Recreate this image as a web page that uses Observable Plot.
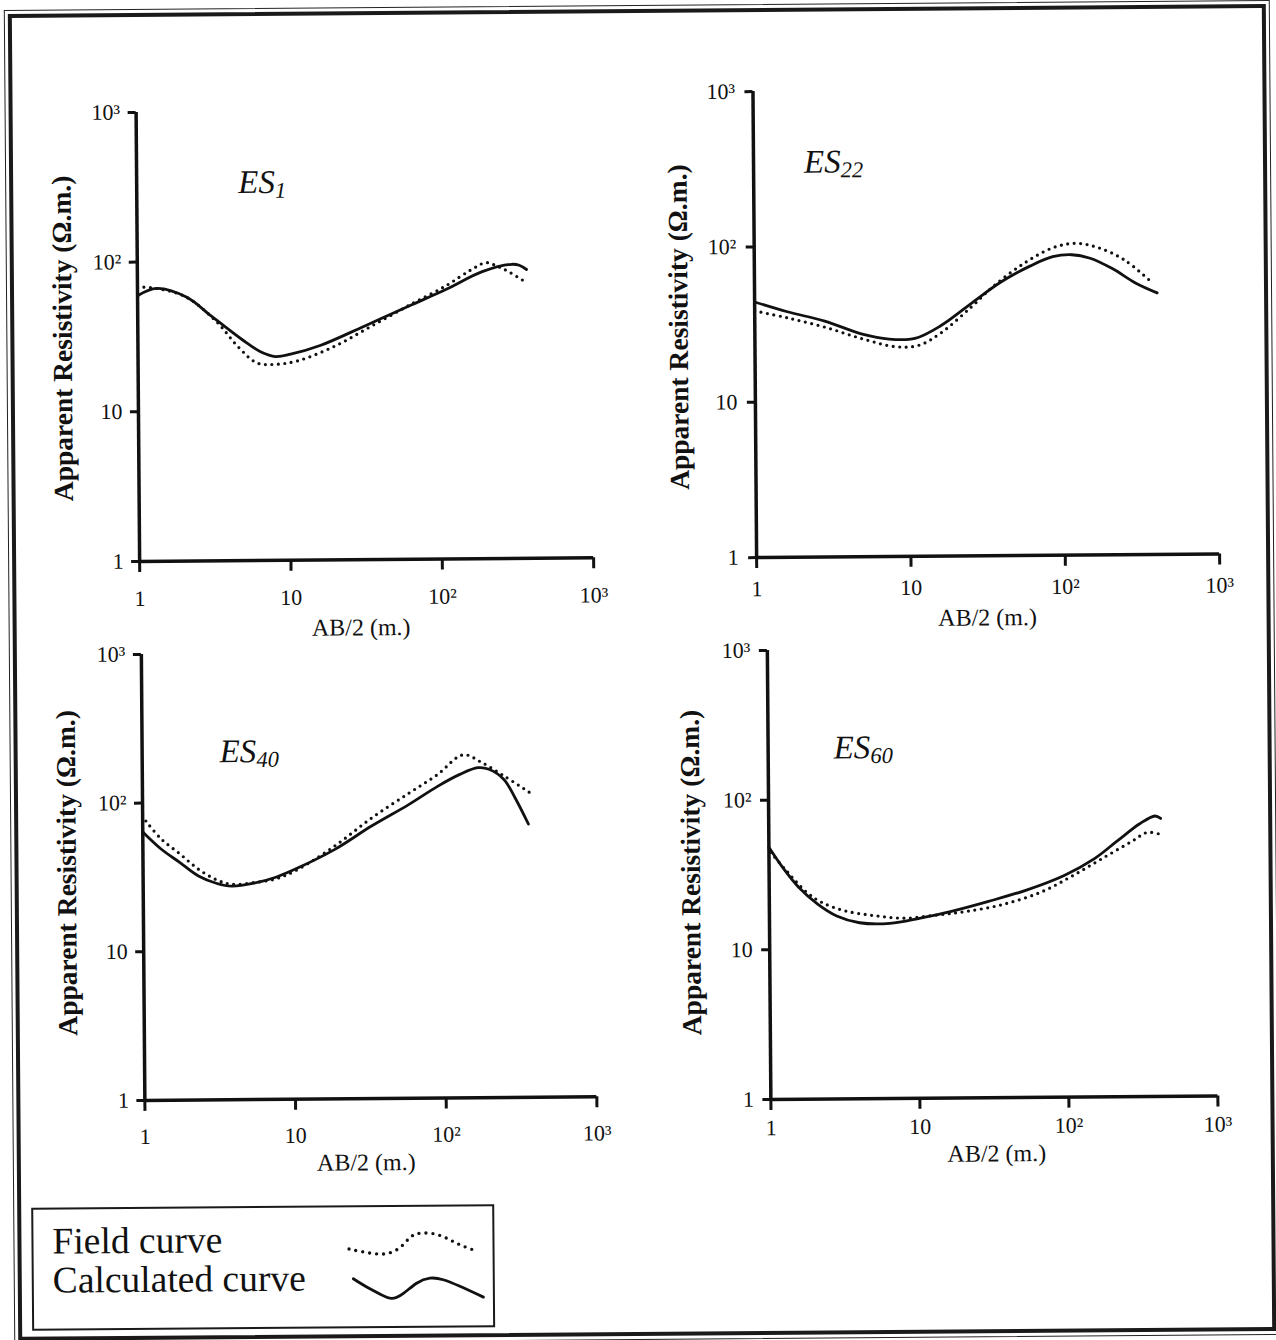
<!DOCTYPE html>
<html>
<head>
<meta charset="utf-8">
<script src="https://cdn.jsdelivr.net/npm/d3@7"></script>
<script src="https://cdn.jsdelivr.net/npm/@observablehq/plot@0.6"></script>
<style>
html, body { margin: 0; padding: 0; background: #fff; overflow: hidden; width: 1276px; height: 1340px; }
#page { position: relative; width: 1276px; height: 1340px; transform: rotate(-0.45deg); transform-origin: 638px 670px; font-family: 'Liberation Serif', 'Times New Roman', serif; color: #111; }
.es { font-style: italic; font-size: 33px; line-height: 1; white-space: nowrap; }
.es sub { font-size: 0.68em; vertical-align: -0.22em; line-height: 1; }
.legtext { font-size: 37.5px; line-height: 1; white-space: nowrap; }
</style>
</head>
<body>
<div id="page"></div>
<script>
// ---------- data ----------
const abTicks = [1, 10, 100, 1000];
const xTickText = ["1", "10", "10²", "10³"];
const yTickText = ["1", "10", "10²", "10³"];
const xTitle = "AB/2 (m.)";
const yTitle = "Apparent Resistivity (Ω.m.)";
const stationNumbers = ["1", "22", "40", "60"];
const legendLabels = ["Field curve", "Calculated curve"];

// ES1
const es1FieldAB  = [1, 1.34, 2.1, 3.3, 4.6, 6.1, 8.1, 11.4, 20, 35, 61.6, 108, 160, 201, 238, 282, 353];
const es1FieldRho = [68.2, 66.5, 58, 39.8, 26.8, 20.9, 20.4, 21.5, 26.8, 36.3, 49.5, 66.5, 85.1, 95, 90, 82.8, 72];
const es1CalcAB   = [1, 1.34, 2.1, 3.1, 4.9, 6.5, 8.1, 10.2, 16, 31.4, 61.6, 108, 190, 298, 334, 373];
const es1CalcRho  = [59.6, 66.5, 58, 42.8, 29.9, 24.7, 23, 23.8, 27.1, 36.3, 49.1, 62.9, 82.8, 92.4, 90.9, 85.1];
// ES22
const es22FieldAB  = [1, 1.63, 2.84, 4.97, 8.2, 11.5, 16.1, 25.1, 35.2, 55, 85.9, 120, 168, 249, 368];
const es22FieldRho = [38.7, 34.8, 30.2, 25.3, 22.4, 22.8, 27.4, 39.7, 54.1, 75.2, 95.3, 101.6, 95.3, 79.2, 57.5];
const es22CalcAB   = [1, 1.63, 2.84, 4.97, 7.4, 10.9, 16.1, 25.1, 39.3, 61.5, 85.9, 114, 150, 210, 294, 406];
const es22CalcRho  = [44.2, 38.1, 33, 27.1, 25.1, 25.3, 30.5, 41.9, 57.5, 73.1, 83.5, 85.8, 81.3, 69.3, 56.1, 48.3];
// ES40
const es40FieldAB  = [1.05, 1.32, 1.76, 2.33, 3.09, 3.87, 5.43, 7.6, 10.7, 18.8, 33, 58, 91, 135, 179, 251, 373];
const es40FieldRho = [75.7, 57.4, 45.3, 35.7, 30.1, 28.1, 28.8, 30.4, 35.2, 50.3, 77, 112, 150, 203, 180, 146, 112];
const es40CalcAB   = [1, 1.32, 1.76, 2.33, 3.09, 3.87, 5.43, 7.6, 10.7, 18.8, 33, 58, 91, 128, 169, 200, 251, 298, 363];
const es40CalcRho  = [63.9, 49, 39.6, 32.1, 28.5, 27.3, 28.5, 31.2, 36, 47.7, 68.1, 94.2, 125, 150, 166, 162, 138, 103, 69];
// ES60
const es60FieldAB  = [1.03, 1.32, 1.77, 2.23, 3.18, 5.08, 8.1, 13, 20.8, 37.4, 67.2, 108, 172, 275, 348, 415];
const es60FieldRho = [44.7, 33.3, 24.3, 20.7, 18.1, 16.7, 16, 16.7, 17.6, 19.6, 23.6, 30, 39.1, 51, 58.2, 56.7];
const es60CalcAB   = [1, 1.24, 1.57, 2.11, 2.83, 4.02, 6.43, 10.3, 16.4, 29.6, 53.2, 95.6, 153, 217, 309, 391, 427];
const es60CalcRho  = [48.4, 35.2, 26.2, 20.1, 16.7, 15, 14.8, 16, 17.6, 20.5, 24.3, 30.3, 39.1, 51, 66.5, 74.8, 72];

// legend glyph shapes (normalised 0..1)
const fieldSampleT = [0, 0.091, 0.195, 0.299, 0.403, 0.481, 0.558, 0.662, 0.766, 0.87, 1.0];
const fieldSampleV = [0.243, 0.112, 0, 0, 0.32, 0.81, 1.0, 0.97, 0.73, 0.40, 0.078];
const calcSampleT  = [0, 0.103, 0.205, 0.295, 0.385, 0.487, 0.59, 0.692, 0.82, 1.0];
const calcSampleV  = [1.0, 0.58, 0.215, 0, 0.25, 0.75, 1.0, 0.915, 0.58, 0.03];

// ---------- layout ----------
const page = document.getElementById("page");
function place(el, left, top) {
  el.style.position = "absolute";
  el.style.left = left + "px";
  el.style.top = top + "px";
  page.appendChild(el);
  return el;
}
const FONT = "'Liberation Serif', 'Times New Roman', serif";
const zip = (a, b) => a.map((v, i) => ({ab: v, rho: b[i]}));

const panels = [
  {left: 140, top: 108, right: 594, bottom: 557, field: zip(es1FieldAB, es1FieldRho), calc: zip(es1CalcAB, es1CalcRho),
   xPad: 18, yPad: 8, yTdx: -75, yTdy: 1, xTdx: -6, xTdy: 68, es: [242, 163]},
  {left: 757, top: 92, right: 1220, bottom: 558, field: zip(es22FieldAB, es22FieldRho), calc: zip(es22CalcAB, es22CalcRho),
   xPad: 12, yPad: 10, yTdx: -76, yTdy: 2, xTdx: -1, xTdy: 62, es: [808, 147]},
  {left: 141, top: 650, right: 593, bottom: 1096, field: zip(es40FieldAB, es40FieldRho), calc: zip(es40CalcAB, es40CalcRho),
   xPad: 17, yPad: 8, yTdx: -76, yTdy: -5, xTdx: -5, xTdy: 64, es: [219, 732]},
  {left: 767, top: 651, right: 1214, bottom: 1100, field: zip(es60FieldAB, es60FieldRho), calc: zip(es60CalcAB, es60CalcRho),
   xPad: 9, yPad: 9, yTdx: -78, yTdy: -3, xTdx: 2, xTdy: 56, es: [833, 733]}
];

panels.forEach((p, k) => {
  const W = p.right - p.left, H = p.bottom - p.top;
  const mL = 120, mR = 40, mT = 30, mB = 100;
  const svg = Plot.plot({
    width: W + mL + mR, height: H + mT + mB,
    marginLeft: mL, marginRight: mR, marginTop: mT, marginBottom: mB,
    style: {background: "none", fontFamily: FONT, color: "#111", overflow: "visible", maxWidth: "none"},
    x: {type: "log", domain: [1, 1000]},
    y: {type: "log", domain: [1, 1000]},
    marks: [
      Plot.axisX({ticks: abTicks, tickFormat: d => xTickText[abTicks.indexOf(d)], tickSize: 11, tickPadding: p.xPad,
                  strokeWidth: 3, fontSize: 22, fontFamily: FONT, label: null}),
      Plot.axisY({ticks: abTicks, tickFormat: d => yTickText[abTicks.indexOf(d)], tickSize: 8, tickPadding: p.yPad,
                  strokeWidth: 3, fontSize: 22, fontFamily: FONT, label: null}),
      Plot.ruleX([1], {strokeWidth: 3.5}),
      Plot.ruleY([1], {strokeWidth: 3.5}),
      Plot.line(p.field, {x: "ab", y: "rho", curve: "catmull-rom", strokeWidth: 3.2,
                          strokeDasharray: "0 6.5", strokeLinecap: "round"}),
      Plot.line(p.calc, {x: "ab", y: "rho", curve: "catmull-rom", strokeWidth: 2.8}),
      Plot.text([yTitle], {text: d => d, frameAnchor: "left", textAnchor: "middle", lineAnchor: "middle",
                           rotate: -90, dx: p.yTdx, dy: p.yTdy,
                           fontSize: 27.5, fontWeight: "bold", fontFamily: FONT}),
      Plot.text([xTitle], {text: d => d, frameAnchor: "bottom", textAnchor: "middle", lineAnchor: "middle",
                           dx: p.xTdx, dy: p.xTdy, fontSize: 24, fontFamily: FONT})
    ]
  });
  place(svg, p.left - mL, p.top - mT);

  const es = document.createElement("div");
  es.className = "es";
  es.innerHTML = "ES<sub>" + stationNumbers[k] + "</sub>";
  place(es, p.es[0], p.es[1]);
});

// ---------- legend ----------
const box = document.createElement("div");
box.style.cssText = "border: 2px solid #1a1a1a; box-sizing: border-box; width: 463px; height: 123px;";
place(box, 27, 1203);

const t1 = document.createElement("div"); t1.className = "legtext"; t1.textContent = legendLabels[0];
place(t1, 48, 1218);
const t2 = document.createElement("div"); t2.className = "legtext"; t2.textContent = legendLabels[1];
place(t2, 48, 1257);

function sample(ts, vs, frame, opts) {
  const m = 5;
  const w = frame.right - frame.left, h = frame.bottom - frame.top;
  const pts = ts.map((t, i) => ({t, v: vs[i]}));
  const svg = Plot.plot({
    width: w + 2 * m, height: h + 2 * m, margin: m,
    style: {background: "none", overflow: "visible", color: "#111", maxWidth: "none"},
    x: {domain: [0, 1], axis: null}, y: {domain: [0, 1], axis: null},
    marks: [Plot.line(pts, {x: "t", y: "v", curve: "natural", ...opts})]
  });
  place(svg, frame.left - m, frame.top - m);
}
sample(fieldSampleT, fieldSampleV, {left: 344, right: 472, top: 1231, bottom: 1251},
       {strokeWidth: 3.4, strokeDasharray: "0 7", strokeLinecap: "round"});
sample(calcSampleT, calcSampleV, {left: 348, right: 478, top: 1276, bottom: 1296},
       {strokeWidth: 2.8});

// ---------- frame border ----------
const outer = document.createElement("div");
outer.style.cssText = "border: 1.5px solid #222; box-sizing: border-box; width: 1265.5px; height: 1334.5px; pointer-events:none;";
place(outer, 9.25, 5.25);
const inner = document.createElement("div");
inner.style.cssText = "border: 4px solid #1a1a1a; box-sizing: border-box; width: 1258px; height: 1327px; pointer-events:none;";
place(inner, 13, 9);
</script>
</body>
</html>
